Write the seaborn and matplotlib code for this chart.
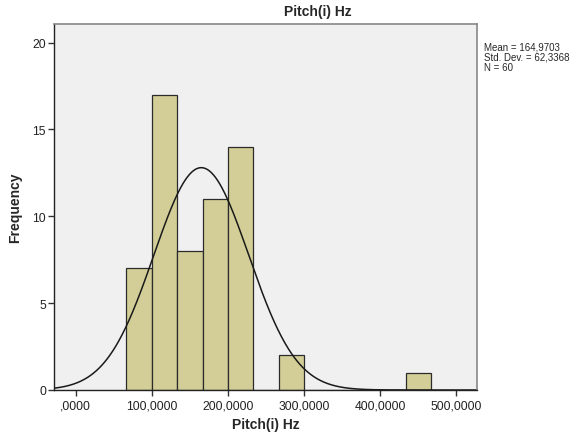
import numpy as np
import pandas as pd
import matplotlib
matplotlib.use("Agg")
import matplotlib.pyplot as plt
import seaborn as sns

# Data
bin_edges = [100/3 * k for k in range(2, 15)]   # 66.67 ... 466.67
counts = [7, 17, 8, 11, 14, 0, 2, 0, 0, 0, 0, 1]
mean_val = 164.9703
std_val = 62.3368
n_val = 60
x_ticks = [0, 100, 200, 300, 400, 500]
x_tick_labels = [",0000", "100,0000", "200,0000", "300,0000", "400,0000", "500,0000"]
y_ticks = [0, 5, 10, 15, 20]

sns.set_style("white")
plt.rcParams['font.family'] = ['Liberation Sans', 'DejaVu Sans']

fig = plt.figure(figsize=(5.83, 4.35), dpi=100)
ax = fig.add_axes([54.3/583, 44/435, (477.3-54.3)/583, (391-25)/435])
ax.set_facecolor("#f0f0f0")

centers = [(bin_edges[i] + bin_edges[i+1]) / 2 for i in range(len(counts))]
df = pd.DataFrame({"x": centers, "w": counts})
sns.histplot(data=df, x="x", weights="w", bins=bin_edges, ax=ax,
             color="#d3ce97", alpha=1.0, edgecolor="#2b2b2b", linewidth=0.9)

bw = bin_edges[1] - bin_edges[0]
xs = np.linspace(-28, 528, 600)
ys = n_val * bw / (std_val * np.sqrt(2*np.pi)) * np.exp(-0.5*((xs-mean_val)/std_val)**2)
sns.lineplot(x=xs, y=ys, ax=ax, color="#1a1a1a", linewidth=1.1)

ax.set_xlim(-28.1, 527.6)
ax.set_ylim(0, 21.07)
ax.set_xticks(x_ticks)
ax.set_xticklabels(x_tick_labels, fontsize=8.7)
ax.set_yticks(y_ticks)
ax.set_yticklabels([str(v) for v in y_ticks], fontsize=8.7)
ax.tick_params(axis='both', which='major', bottom=True, left=True, direction='out',
               length=4, width=1, color="#333333", pad=2, labelcolor="#222222")
ax.tick_params(axis='x', pad=3)

for s in ["left", "bottom"]:
    ax.spines[s].set_color("#222222")
    ax.spines[s].set_linewidth(1.0)
for s in ["top", "right"]:
    ax.spines[s].set_color("#888888")
    ax.spines[s].set_linewidth(1.2)

ax.set_xlabel("Pitch(i) Hz", fontsize=10, fontweight="bold", labelpad=4)
ax.set_ylabel("Frequency", fontsize=10, fontweight="bold", labelpad=7)

fig.text(318/583, 1 - 12/435, "Pitch(i) Hz", ha="center", va="center", fontsize=10, fontweight="bold")
stats = "Mean = 164,9703\nStd. Dev. = 62,3368\nN = 60"
fig.text(484/583, 1 - 43/435, stats, ha="left", va="top", fontsize=7, linespacing=1.0)

fig.savefig("out.png", dpi=100)
